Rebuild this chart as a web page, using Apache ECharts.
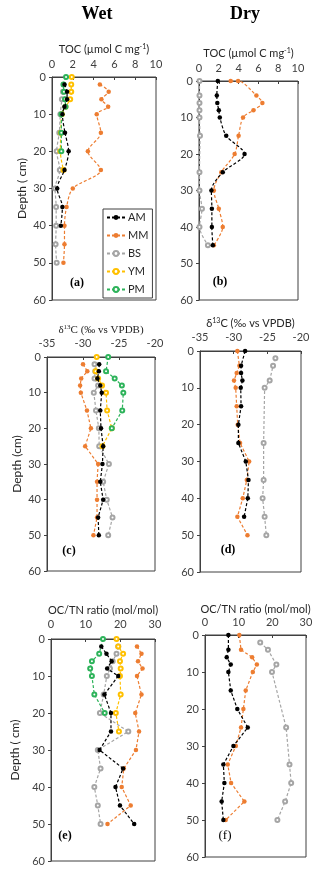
<!DOCTYPE html>
<html>
<head>
<meta charset="utf-8">
<script src="https://cdn.jsdelivr.net/npm/echarts@6/dist/echarts.min.js"></script>
<style>
  html, body { margin: 0; padding: 0; background: #fff; }
  #chart { width: 320px; height: 871px; }
</style>
</head>
<body>
<div id="chart"></div>
<script>
// ---- data (depth in cm, value) ----
// (a) TOC wet
var tocWetAM_d = [2, 4, 6, 8, 10, 15, 20, 25, 30, 35, 40];
var tocWetAM   = [1.2, 1.45, 1.45, 1.2, 1.0, 1.25, 1.6, 1.2, 0.5, 1.0, 0.85];
var tocWetMM_d = [2, 4, 6, 8, 10, 15, 20, 25, 30, 35, 40, 45, 50];
var tocWetMM   = [4.6, 5.45, 4.75, 5.4, 4.3, 4.7, 3.45, 4.7, 2.0, 1.4, 1.2, 1.2, 1.1];
var tocWetBS_d = [4, 6, 10, 15, 20, 25, 30, 35, 40, 45, 50];
var tocWetBS   = [1.05, 0.95, 0.8, 0.7, 0.45, 0.75, 0.3, 0.4, 0.4, 0.35, 0.45];
var tocWetYM_d = [0, 2, 4, 6, 8, 10, 15, 20, 25];
var tocWetYM   = [1.9, 1.85, 1.85, 1.75, 1.3, 0.95, 0.85, 0.8, 1.1];
var tocWetPM_d = [0, 2, 4, 6, 8, 10, 15, 20];
var tocWetPM   = [1.35, 1.1, 1.15, 1.25, 1.3, 0.9, 0.9, 0.9];

// (b) TOC dry
var tocDryAM_d = [0, 4, 6, 8, 10, 15, 20, 25, 30, 35, 40, 45];
var tocDryAM   = [1.9, 1.8, 1.85, 2.0, 2.1, 2.75, 4.6, 2.4, 1.25, 1.3, 1.3, 1.4];
var tocDryMM_d = [0, 0, 4, 6, 8, 10, 15, 20, 25, 30, 35, 40, 45];
var tocDryMM   = [3.2, 3.95, 5.8, 6.4, 5.5, 4.45, 4.0, 3.6, 2.25, 1.5, 2.0, 2.4, 1.5];
var tocDryBS_d = [0, 4, 6, 8, 10, 15, 25, 30, 35, 40, 45];
var tocDryBS   = [0.05, 0.05, 0.05, 0.05, 0.05, 0.1, 0.05, 0.05, 0.3, 0.05, 0.9];

// (c) d13C wet
var d13WetAM_d = [2, 4, 6, 8, 10, 15, 20, 25, 30, 35, 40, 45, 50];
var d13WetAM   = [-27.75, -27.8, -28.0, -27.6, -27.4, -27.6, -27.5, -27.2, -27.3, -27.6, -27.2, -27.9, -27.8];
var d13WetMM_d = [2, 4, 6, 8, 10, 15, 20, 25, 30, 35, 40, 45, 50];
var d13WetMM   = [-30.0, -29.4, -30.25, -30.4, -30.3, -29.45, -28.9, -29.7, -27.9, -28.05, -28.05, -28.05, -28.55];
var d13WetBS_d = [2, 4, 6, 8, 10, 15, 20, 25, 30, 35, 40, 45, 50];
var d13WetBS   = [-28.4, -28.3, -28.4, -27.9, -28.5, -28.2, -27.8, -27.75, -26.4, -27.2, -26.7, -25.9, -26.5];
var d13WetYM_d = [0, 4, 6, 8, 10, 15, 20, 25];
var d13WetYM   = [-28.1, -28.25, -27.9, -27.35, -26.8, -26.65, -26.0, -27.3];
var d13WetPM_d = [0, 4, 6, 8, 10, 15, 20];
var d13WetPM   = [-26.5, -26.8, -25.6, -24.6, -24.4, -24.55, -26.0];

// (d) d13C dry
var d13DryAM_d = [0, 4, 6, 8, 10, 15, 20, 25, 30, 35, 40, 45];
var d13DryAM   = [-28.3, -28.9, -28.9, -28.7, -28.95, -28.9, -29.3, -29.3, -28.2, -27.8, -27.9, -28.45];
var d13DryMM_d = [0, 4, 6, 8, 10, 15, 20, 25, 30, 35, 40, 45, 50];
var d13DryMM   = [-29.45, -29.15, -29.55, -29.95, -29.7, -29.55, -29.4, -29.05, -27.7, -28.05, -28.65, -29.45, -27.95];
var d13DryBS_d = [2, 4, 8, 10, 25, 35, 40, 45, 50];
var d13DryBS   = [-23.8, -24.15, -24.65, -25.4, -25.55, -25.55, -25.7, -25.4, -25.15];

// (e) OC/TN wet
var cnWetAM_d = [2, 4, 6, 8, 10, 15, 20, 25, 30, 35, 40, 45, 50];
var cnWetAM   = [14.5, 16.0, 17.5, 16.2, 19.4, 15.4, 17.3, 17.3, 14.0, 20.8, 18.6, 19.9, 24.0];
var cnWetMM_d = [2, 4, 6, 8, 10, 15, 20, 25, 30, 35, 40, 45, 50];
var cnWetMM   = [24.8, 26.1, 25.1, 26.4, 24.8, 26.1, 24.3, 25.4, 24.5, 21.0, 20.4, 23.0, 16.3];
var cnWetBS_d = [2, 4, 6, 8, 10, 15, 20, 25, 30, 35, 40, 45, 50];
var cnWetBS   = [19.4, 18.9, 17.8, 17.0, 16.1, 15.2, 14.1, 22.3, 13.5, 14.3, 12.5, 13.5, 14.3];
var cnWetYM_d = [0, 2, 4, 6, 8, 10, 15, 20, 25];
var cnWetYM   = [18.9, 19.4, 20.8, 19.9, 20.1, 19.9, 20.1, 18.7, 19.6];
var cnWetPM_d = [0, 4, 6, 8, 10, 15, 20];
var cnWetPM   = [15.0, 13.9, 11.8, 11.3, 11.8, 12.5, 15.5];

// (f) OC/TN dry
var cnDryAM_d = [0, 4, 6, 8, 10, 15, 20, 25, 30, 35, 40, 45, 50];
var cnDryAM   = [6.95, 6.95, 6.45, 7.65, 6.95, 7.65, 9.6, 12.7, 8.45, 5.45, 5.75, 4.95, 5.45];
var cnDryMM_d = [0, 4, 6, 8, 10, 15, 20, 25, 30, 35, 40, 45, 50];
var cnDryMM   = [10.2, 10.7, 14.0, 15.4, 14.2, 12.1, 11.4, 10.7, 9.15, 6.75, 7.75, 11.7, 6.15];
var cnDryBS_d = [2, 4, 8, 10, 25, 35, 40, 45, 50];
var cnDryBS   = [16.4, 18.7, 21.2, 19.9, 24.1, 25.1, 25.6, 23.8, 21.5];

var siteNames = ['AM', 'MM', 'BS', 'YM', 'PM'];

// ---- styles ----
var colors = { AM: '#000000', MM: '#ED7D31', BS: '#A5A5A5', YM: '#FFC000', PM: '#2DB35A' };
var hollow = { AM: false, MM: false, BS: true, YM: true, PM: true };
var SANS = 'Lato, "Open Sans", sans-serif';
var SERIF = '"Liberation Serif", "DejaVu Serif", serif';

function pairs(vals, depths) {
    return vals.map(function (v, i) { return [v, depths[i]]; });
}

var grids = [], xAxes = [], yAxes = [], series = [];

function addPanel(p) {
    var idx = grids.length;
    grids.push({ left: p.box[0], top: p.box[1], width: p.box[2], height: p.box[3],
        show: true, borderColor: '#404040', borderWidth: 1, backgroundColor: 'transparent' });
    xAxes.push({
        gridIndex: idx, type: 'value', position: 'top',
        min: p.xmin, max: p.xmax, interval: p.xint,
        name: p.xname, nameLocation: 'middle', nameGap: p.xgap,
        nameTextStyle: { fontFamily: p.nameFont || SANS, fontSize: 11, color: '#262626',
            rich: {
                n: { fontFamily: p.nameFont || SANS, fontSize: 11, color: '#262626', lineHeight: 13 },
                s: { fontFamily: p.nameFont || SANS, fontSize: 7, color: '#262626', verticalAlign: 'top', lineHeight: 13 }
            } },
        axisLine: { show: true, lineStyle: { color: '#404040' } },
        axisTick: { show: true, inside: true, length: 3, lineStyle: { color: '#404040' } },
        axisLabel: { fontFamily: SANS, fontSize: 11, color: '#404040', margin: p.xmargin },
        splitLine: { show: false }
    });
    yAxes.push({
        gridIndex: idx, type: 'value', inverse: true,
        min: 0, max: 60, interval: 10,
        name: p.yname || '', nameLocation: 'middle', nameGap: p.ygap || 26, nameRotate: 90,
        nameTextStyle: { fontFamily: SANS, fontSize: 12, color: '#262626' },
        axisLine: { show: true, lineStyle: { color: '#404040' } },
        axisTick: { show: true, length: 3, lineStyle: { color: '#404040' } },
        axisLabel: { fontFamily: SANS, fontSize: 11, color: '#404040', margin: 6 },
        splitLine: { show: false }
    });
    p.lines.forEach(function (l) {
        var c = colors[l.name];
        series.push({
            name: l.name, type: 'line', xAxisIndex: idx, yAxisIndex: idx,
            data: pairs(l.vals, l.depths),
            smooth: p.smooth || false,
            symbol: hollow[l.name] ? 'emptyCircle' : 'circle',
            symbolSize: hollow[l.name] ? 4 : 4.5,
            itemStyle: { color: c, borderColor: c, borderWidth: hollow[l.name] ? 1 : 0 },
            lineStyle: { color: c, width: 1.2, type: [3, 2] },
            z: l.name === 'AM' ? 5 : 3,
            animation: false
        });
    });
}

var tocName = '{n|TOC (µmol C mg}{s|-1}{n|)}';
var d13Name = '{n|δ}{s|13}{n|C (‰ vs VPDB)}';
var cnName = 'OC/TN ratio (mol/mol)';

addPanel({ box: [52, 77, 104, 223], xmin: 0, xmax: 10, xint: 2, xname: tocName, xgap: 21, xmargin: 7,
    yname: 'Depth ( cm)', ygap: 24, smooth: 0.3,
    lines: [
        { name: 'AM', vals: tocWetAM, depths: tocWetAM_d },
        { name: 'MM', vals: tocWetMM, depths: tocWetMM_d },
        { name: 'BS', vals: tocWetBS, depths: tocWetBS_d },
        { name: 'YM', vals: tocWetYM, depths: tocWetYM_d },
        { name: 'PM', vals: tocWetPM, depths: tocWetPM_d }
    ] });
addPanel({ box: [199, 81, 99, 219], xmin: 0, xmax: 10, xint: 2, xname: tocName, xgap: 21, xmargin: 7,
    smooth: 0.3,
    lines: [
        { name: 'AM', vals: tocDryAM, depths: tocDryAM_d },
        { name: 'MM', vals: tocDryMM, depths: tocDryMM_d },
        { name: 'BS', vals: tocDryBS, depths: tocDryBS_d }
    ] });
addPanel({ box: [47, 357, 108, 214], xmin: -35, xmax: -20, xint: 5, xname: d13Name, xgap: 20, xmargin: 8,
    nameFont: SERIF, yname: 'Depth (cm)', ygap: 24,
    lines: [
        { name: 'AM', vals: d13WetAM, depths: d13WetAM_d },
        { name: 'MM', vals: d13WetMM, depths: d13WetMM_d },
        { name: 'BS', vals: d13WetBS, depths: d13WetBS_d },
        { name: 'YM', vals: d13WetYM, depths: d13WetYM_d },
        { name: 'PM', vals: d13WetPM, depths: d13WetPM_d }
    ] });
addPanel({ box: [200, 351, 101, 221], xmin: -35, xmax: -20, xint: 5, xname: d13Name, xgap: 21, xmargin: 8,
    lines: [
        { name: 'AM', vals: d13DryAM, depths: d13DryAM_d },
        { name: 'MM', vals: d13DryMM, depths: d13DryMM_d },
        { name: 'BS', vals: d13DryBS, depths: d13DryBS_d }
    ] });
addPanel({ box: [51, 639, 104, 222], xmin: 0, xmax: 30, xint: 10, xname: cnName, xgap: 23, xmargin: 9,
    yname: 'Depth ( cm)', ygap: 30,
    lines: [
        { name: 'AM', vals: cnWetAM, depths: cnWetAM_d },
        { name: 'MM', vals: cnWetMM, depths: cnWetMM_d },
        { name: 'BS', vals: cnWetBS, depths: cnWetBS_d },
        { name: 'YM', vals: cnWetYM, depths: cnWetYM_d },
        { name: 'PM', vals: cnWetPM, depths: cnWetPM_d }
    ] });
addPanel({ box: [205, 635, 101, 222], xmin: 0, xmax: 30, xint: 10, xname: cnName, xgap: 20, xmargin: 7,
    lines: [
        { name: 'AM', vals: cnDryAM, depths: cnDryAM_d },
        { name: 'MM', vals: cnDryMM, depths: cnDryMM_d },
        { name: 'BS', vals: cnDryBS, depths: cnDryBS_d }
    ] });

function label(text, x, y, bold, size) {
    return { type: 'text', x: x, y: y,
        style: { text: text, fontFamily: SERIF, fontSize: size, fontWeight: bold ? 'bold' : 'normal',
            fill: '#000', textAlign: 'center', textVerticalAlign: 'middle' } };
}

var chart = echarts.init(document.getElementById('chart'), null, { renderer: 'canvas' });
chart.setOption({
    animation: false,
    backgroundColor: '#fff',
    grid: grids,
    xAxis: xAxes,
    yAxis: yAxes,
    series: series,
    legend: {
        data: siteNames, orient: 'vertical', left: 103, top: 209,
        itemWidth: 18, itemHeight: 6, itemGap: 7,
        padding: [3, 4, 3, 3],
        borderColor: '#404040', borderWidth: 1, backgroundColor: '#fff',
        textStyle: { fontFamily: SANS, fontSize: 11, color: '#262626', padding: [0, 0, 0, -2] }
    },
    graphic: [
        label('Wet', 97, 14, true, 18),
        label('Dry', 245, 14, true, 18),
        label('(a)', 77, 283, true, 12),
        label('(b)', 220, 282, true, 12),
        label('(c)', 69, 551, true, 12),
        label('(d)', 228, 550, true, 12),
        label('(e)', 65, 836, true, 12),
        label('(f)', 225, 836, false, 13)
    ]
});
</script>
</body>
</html>
